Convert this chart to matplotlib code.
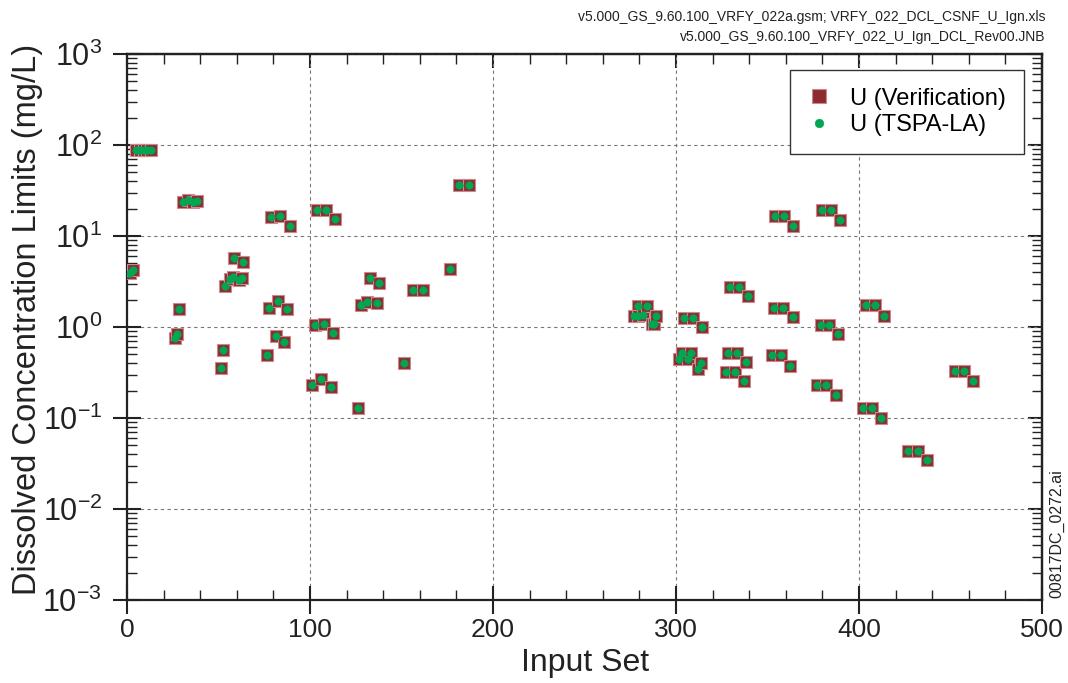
import matplotlib
matplotlib.use("Agg")
import matplotlib.pyplot as plt
from matplotlib.ticker import LogLocator, MultipleLocator, LogFormatterSciNotation, NullFormatter

plt.rcParams['font.family'] = ['Liberation Sans', 'DejaVu Sans']
plt.rcParams['mathtext.fontset'] = 'custom'
plt.rcParams['mathtext.rm'] = 'Liberation Sans'
plt.rcParams['mathtext.it'] = 'Liberation Sans'
plt.rcParams['mathtext.default'] = 'regular'

# ---- data ----
input_set = [1.6, 3.4, 5, 7, 9, 11, 13,
             26.2, 27.5, 28.6, 30.7, 33.5, 36.2, 38.4,
             51.2, 52.6, 53.6, 56.3, 57.8, 58.6, 61.4, 62.7, 63.6,
             76.3, 77.6, 78.5, 81.2, 82.7, 83.6, 86.0, 87.6, 89.0,
             101.3, 102.7, 103.6, 106.1, 107.7, 108.7, 111.3, 112.7, 113.8,
             126.4, 127.7, 131.3, 132.8, 136.4, 137.7,
             151.5, 156.5, 161.5,
             176.5, 181.6, 186.7,
             276.8, 279.0, 279.3, 282.2, 283.9, 286.6, 288.1, 289.0,
             301.8, 303.1, 304.4, 306.7, 308.2, 309.5, 311.8, 313.5, 314.4,
             327.2, 328.6, 329.5, 332.2, 333.5, 334.6, 337.2, 338.4, 339.5,
             352.3, 353.6, 354.0, 357.2, 358.6, 359.0, 362.3, 363.8, 363.9,
             377.0, 379.0, 379.6, 382.0, 383.5, 384.7, 387.3, 388.7, 389.6,
             402.4, 403.8, 407.3, 408.7, 412.0, 413.8,
             427.0, 432.0, 437.3,
             452.5, 457.4, 462.5]

u_verification = [3.9, 4.2, 88, 88, 88, 88, 88,
                  0.75, 0.84, 1.59, 23.8, 24.6, 23.6, 24.4,
                  0.354, 0.56, 2.82, 3.37, 3.57, 5.78, 3.28, 3.43, 5.18,
                  0.49, 1.62, 16.0, 0.80, 1.93, 16.6, 0.69, 1.58, 12.9,
                  0.231, 1.05, 19.3, 0.270, 1.08, 19.3, 0.221, 0.86, 15.2,
                  0.130, 1.75, 1.88, 3.48, 1.84, 3.07,
                  0.405, 2.55, 2.55,
                  4.31, 36.6, 36.6,
                  1.33, 1.70, 1.33, 1.35, 1.70, 1.07, 1.08, 1.33,
                  0.445, 0.52, 1.26, 0.445, 0.52, 1.26, 0.348, 0.405, 0.99,
                  0.323, 0.52, 2.77, 0.323, 0.52, 2.77, 0.253, 0.41, 2.17,
                  0.49, 1.62, 16.6, 0.49, 1.62, 16.6, 0.377, 1.28, 12.9,
                  0.229, 1.05, 19.3, 0.229, 1.05, 19.3, 0.180, 0.83, 15.0,
                  0.129, 1.73, 0.129, 1.73, 0.101, 1.33,
                  0.0437, 0.0437, 0.0343,
                  0.328, 0.328, 0.253]

u_tspa_la = list(u_verification)

x_ticks = [0, 100, 200, 300, 400, 500]
header_lines = ["v5.000_GS_9.60.100_VRFY_022a.gsm; VRFY_022_DCL_CSNF_U_Ign.xls",
                "v5.000_GS_9.60.100_VRFY_022_U_Ign_DCL_Rev00.JNB"]

INK = '#222222'

# ---- figure ----
fig = plt.figure(figsize=(10.68, 6.83), dpi=100)
ax = fig.add_axes([0.119, 0.1215, 0.8567, 0.7994])

ax.plot(input_set, u_verification, linestyle='none', marker='s', markersize=8.5,
        markerfacecolor='#8E2B31', markeredgecolor='#C98A8E', markeredgewidth=0.8,
        label='U (Verification)', zorder=3)
ax.plot(input_set, u_tspa_la, linestyle='none', marker='o', markersize=5.5,
        markerfacecolor='#00A651', markeredgecolor='#00A651', markeredgewidth=0.3,
        label='U (TSPA-LA)', zorder=4)

ax.set_yscale('log')
ax.set_xlim(0, 500)
ax.set_ylim(1e-3, 1e3)

ax.set_xticks(x_ticks)
ax.xaxis.set_minor_locator(MultipleLocator(20))
ax.yaxis.set_major_locator(LogLocator(base=10, numticks=20))
ax.yaxis.set_minor_locator(LogLocator(base=10, subs=range(2, 10), numticks=20))
ax.yaxis.set_major_formatter(LogFormatterSciNotation())
ax.yaxis.set_minor_formatter(NullFormatter())

ax.tick_params(axis='both', which='major', direction='inout', length=20, width=1.5,
               top=False, right=False, colors=INK)
ax.tick_params(axis='both', which='minor', direction='in', length=7, width=1.0,
               top=False, right=False, colors=INK)
ax.tick_params(axis='x', which='major', labelsize=19, pad=3)
ax.tick_params(axis='y', which='major', labelsize=22, pad=8)

# top / right axes: inward ticks only, no labels
secx = ax.secondary_xaxis('top')
secx.set_xticks(x_ticks)
secx.xaxis.set_minor_locator(MultipleLocator(20))
secx.tick_params(which='major', direction='in', length=10, width=1.5, labeltop=False, colors=INK)
secx.tick_params(which='minor', direction='in', length=7, width=1.0, colors=INK)
secx.spines['top'].set_linewidth(1.6)
secx.spines['top'].set_color(INK)

secy = ax.secondary_yaxis('right')
secy.yaxis.set_major_locator(LogLocator(base=10, numticks=20))
secy.yaxis.set_minor_locator(LogLocator(base=10, subs=range(2, 10), numticks=20))
secy.yaxis.set_minor_formatter(NullFormatter())
secy.tick_params(which='major', direction='in', length=10, width=1.5, labelright=False, colors=INK)
secy.tick_params(which='minor', direction='in', length=7, width=1.0, colors=INK)
secy.spines['right'].set_linewidth(1.6)
secy.spines['right'].set_color(INK)

for s in ax.spines.values():
    s.set_linewidth(1.6)
    s.set_color(INK)

ax.grid(True, which='major', linestyle=(0, (3, 3)), color='#777777', linewidth=0.8)
ax.set_axisbelow(True)

ax.set_xlabel('Input Set', fontsize=23, color=INK, labelpad=4)
ax.set_ylabel('Dissolved Concentration Limits (mg/L)', fontsize=23.5, color=INK)
ax.yaxis.set_label_coords(-0.092, 0.513)

leg = ax.legend(loc='upper right', bbox_to_anchor=(0.980, 0.971), borderaxespad=0,
                fontsize=17, fancybox=False, frameon=True, handletextpad=0.8,
                borderpad=0.75, labelspacing=0.2, handlelength=1.0, markerscale=1.15)
leg.get_frame().set_edgecolor('#333333')
leg.get_frame().set_linewidth(1.0)
leg.get_frame().set_alpha(1)

fig.text(1045 / 1068, 1 - 17 / 683, header_lines[0], ha='right', va='center',
         fontsize=10, color=INK)
fig.text(1045 / 1068, 1 - 37 / 683, header_lines[1], ha='right', va='center',
         fontsize=10, color=INK)
fig.text(1057 / 1068, 1 - 598 / 683, '00817DC_0272.ai', rotation=90, ha='center', va='bottom',
         fontsize=11.5, color=INK)

fig.savefig('out.png', dpi=100)
